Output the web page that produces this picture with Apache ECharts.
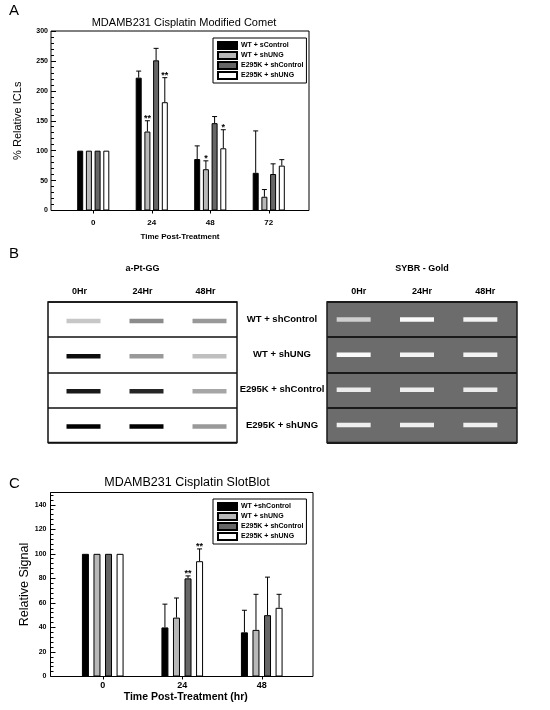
<!DOCTYPE html>
<html>
<head>
<meta charset="utf-8">
<script src="https://cdn.jsdelivr.net/npm/echarts@6/dist/echarts.min.js"></script>
<style>
  html, body { margin: 0; padding: 0; background: #fff; }
  #chart { width: 550px; height: 710px; }
</style>
</head>
<body>
<div id="chart"></div>
<script>
// panel A - comet assay
var cometTimes = ['0', '24', '48', '72'];
var cometNames = ['WT + sControl', 'WT + shUNG', 'E295K + shControl', 'E295K + shUNG'];
var cometWTsCtl = [100, 222, 86, 63];
var cometWTsCtlErr = [0, 11, 22, 70];
var cometWTshUNG = [100, 132, 69, 23];
var cometWTshUNGErr = [0, 18, 14, 12];
var cometE295KshCtl = [100, 251, 146, 61];
var cometE295KshCtlErr = [0, 20, 11, 17];
var cometE295KshUNG = [100, 181, 104, 75];
var cometE295KshUNGErr = [0, 41, 31, 10];
var cometStars = [['', '', '', ''], ['', '**', '*', ''], ['', '', '', ''], ['', '**', '*', '']];
var cometTicks = [0, 50, 100, 150, 200, 250, 300];

// panel B - slot blots
var blotLanes = ['0Hr', '24Hr', '48Hr'];
var blotRows = ['WT + shControl', 'WT + shUNG', 'E295K + shControl', 'E295K + shUNG'];
var ptggSignal = [[0.22, 0.45, 0.4], [0.95, 0.4, 0.25], [0.9, 0.85, 0.35], [1.0, 1.0, 0.4]];
var sybrSignal = [[0.7, 1.0, 0.95], [1.0, 0.95, 0.95], [0.9, 0.92, 0.9], [0.92, 0.92, 0.92]];

// panel C - slot blot quantification
var slotTimes = ['0', '24', '48'];
var slotNames = ['WT +shControl', 'WT + shUNG', 'E295K + shControl', 'E295K + shUNG'];
var slotWTshCtl = [100, 40, 36];
var slotWTshCtlErr = [0, 19, 18];
var slotWTshUNG = [100, 48, 38];
var slotWTshUNGErr = [0, 16, 29];
var slotE295KshCtl = [100, 80, 50];
var slotE295KshCtlErr = [0, 2, 31];
var slotE295KshUNG = [100, 94, 56];
var slotE295KshUNGErr = [0, 10, 11];
var slotStars = [['', '', ''], ['', '', ''], ['', '**', ''], ['', '**', '']];
var slotTicks = [0, 20, 40, 60, 80, 100, 120, 140];

var FONT = 'Liberation Sans';
var fills = ['#000000', '#b8b8b8', '#666666', '#ffffff'];

var chart = echarts.init(document.getElementById('chart'));

function barSeries(names, values, xi, barW, gap) {
    return values.map(function (v, k) {
        return {
            type: 'bar', name: names[k], xAxisIndex: xi, yAxisIndex: xi,
            data: v, barWidth: barW, barGap: gap,
            itemStyle: { color: fills[k], borderColor: '#000', borderWidth: 1 },
            animation: false
        };
    });
}

function errSeries(values, errs, stars, xi, pitch, starSize) {
    var data = [];
    values.forEach(function (v, k) {
        v.forEach(function (m, c) {
            if (errs[k][c] > 0) data.push([c, k, m, errs[k][c], stars[k][c]]);
        });
    });
    return {
        type: 'custom', xAxisIndex: xi, yAxisIndex: xi, data: data, animation: false, z: 5,
        renderItem: function (params, api) {
            var c = api.value(0), k = api.value(1), m = api.value(2), e = api.value(3);
            var s = data[params.dataIndex][4];
            var base = api.coord([c, m]);
            var top = api.coord([c, m + e]);
            var x = base[0] + (k - 1.5) * pitch;
            var kids = [
                { type: 'line', shape: { x1: x, y1: base[1], x2: x, y2: top[1] }, style: { stroke: '#000', lineWidth: 1 } },
                { type: 'line', shape: { x1: x - 2.5, y1: top[1], x2: x + 2.5, y2: top[1] }, style: { stroke: '#000', lineWidth: 1 } }
            ];
            if (s) {
                kids.push({ type: 'text', x: x, y: top[1] + 2, style: {
                    text: s, fill: '#000', font: 'bold ' + starSize + 'px ' + FONT, align: 'center', verticalAlign: 'bottom' } });
            }
            return { type: 'group', children: kids };
        }
    };
}

function blotSeries(signal, xi, toColor, size, offset) {
    var data = [];
    signal.forEach(function (row, r) {
        row.forEach(function (s, l) { data.push([l, r, s]); });
    });
    return {
        type: 'scatter', xAxisIndex: xi, yAxisIndex: xi, data: data, animation: false,
        symbol: 'rect', symbolSize: size, symbolOffset: offset,
        itemStyle: { color: function (p) { return toColor(p.value[2]); }, opacity: 1 },
        silent: true
    };
}

function grey(v) {
    var g = Math.max(0, Math.min(255, Math.round(v)));
    return 'rgb(' + g + ',' + g + ',' + g + ')';
}

var catLabel = function (size) {
    return { color: '#000', fontFamily: FONT, fontWeight: 'bold', fontSize: size };
};

function legendAt(names, top) {
    return {
        data: names, orient: 'vertical', left: 213, top: top,
        itemWidth: 19, itemHeight: 7, itemGap: 1, padding: [3, 3, 3, 4],
        borderColor: '#000', borderWidth: 1, backgroundColor: '#fff',
        selectedMode: false, icon: 'rect',
        textStyle: { fontSize: 7, lineHeight: 8.5, fontWeight: 'bold', color: '#000', fontFamily: FONT, padding: [0, 0, 0, -1] }
    };
}

var option = {
    animation: false,
    textStyle: { fontFamily: FONT },
    graphic: [
        { type: 'text', left: 9, top: 3, style: { text: 'A', font: '15px ' + FONT, fill: '#000' } },
        { type: 'text', left: 9, top: 246, style: { text: 'B', font: '15px ' + FONT, fill: '#000' } },
        { type: 'text', left: 9, top: 476, style: { text: 'C', font: '15px ' + FONT, fill: '#000' } },
        { type: 'text', x: 184, y: 23, style: { text: 'MDAMB231 Cisplatin Modified Comet', font: '11px ' + FONT, fill: '#000', align: 'center', verticalAlign: 'middle' } },
        { type: 'text', x: 187, y: 483, style: { text: 'MDAMB231 Cisplatin SlotBlot', font: '12.5px ' + FONT, fill: '#000', align: 'center', verticalAlign: 'middle' } }
    ],
    legend: [legendAt(cometNames, 38), legendAt(slotNames, 499)],
    grid: [
        { left: 64, right: 252, top: 31, bottom: 499.5 },
        { left: 51, right: 241, top: 31, bottom: 499.5, show: true, borderColor: '#000', borderWidth: 1 },
        { left: 63, right: 248.5, top: 492.5, bottom: 33.5 },
        { left: 50.5, right: 237, top: 492.5, bottom: 33.5, show: true, borderColor: '#000', borderWidth: 1 },
        { left: 48, right: 313, top: 302, bottom: 267.5, show: true, borderColor: '#111', borderWidth: 1.5 },
        { left: 327, right: 33, top: 302, bottom: 267.5, show: true, borderColor: '#1a1a1a', borderWidth: 1.5, backgroundColor: '#6c6c6c' }
    ],
    xAxis: [
        { gridIndex: 0, type: 'category', data: cometTimes, axisLine: { show: false },
          axisTick: { show: true, alignWithLabel: true, length: 3, lineStyle: { color: '#000' } },
          axisLabel: Object.assign({ margin: 8 }, catLabel(8)) },
        { gridIndex: 1, type: 'value', min: 0, max: 1, axisLine: { show: false }, axisTick: { show: false },
          axisLabel: { show: false }, splitLine: { show: false },
          name: 'Time Post-Treatment', nameLocation: 'middle', nameGap: 22,
          nameTextStyle: { fontSize: 8, fontWeight: 'bold', color: '#000', fontFamily: FONT } },
        { gridIndex: 2, type: 'category', data: slotTimes, axisLine: { show: false },
          axisTick: { show: true, alignWithLabel: true, length: 3, lineStyle: { color: '#000' } },
          axisLabel: Object.assign({ margin: 5 }, catLabel(9)) },
        { gridIndex: 3, type: 'value', min: 0, max: 1, axisLine: { show: false }, axisTick: { show: false },
          axisLabel: { show: false }, splitLine: { show: false },
          name: 'Time Post-Treatment (hr)', nameLocation: 'middle', nameGap: 15,
          nameTextStyle: { fontSize: 10.5, fontWeight: 'bold', color: '#000', fontFamily: FONT, padding: [0, 0, 0, 8] } },
        { gridIndex: 4, type: 'category', data: blotLanes, position: 'top',
          axisLine: { show: false }, axisTick: { show: false },
          axisLabel: Object.assign({ margin: 6 }, catLabel(9)),
          name: 'a-Pt-GG', nameLocation: 'middle', nameGap: 29,
          nameTextStyle: { fontSize: 9, fontWeight: 'bold', color: '#000', fontFamily: FONT } },
        { gridIndex: 5, type: 'category', data: blotLanes, position: 'top',
          axisLine: { show: false }, axisTick: { show: false },
          axisLabel: Object.assign({ margin: 6 }, catLabel(9)),
          name: 'SYBR - Gold', nameLocation: 'middle', nameGap: 29,
          nameTextStyle: { fontSize: 9, fontWeight: 'bold', color: '#000', fontFamily: FONT } }
    ],
    yAxis: [
        { gridIndex: 0, type: 'value', min: 0, max: 300, interval: 50, show: false },
        { gridIndex: 1, type: 'value', min: 0, max: 300, interval: 50,
          axisLine: { show: false },
          axisTick: { show: true, inside: true, length: 5, lineStyle: { color: '#000' } },
          minorTick: { show: true, splitNumber: 5, length: 3, lineStyle: { color: '#000' } },
          splitLine: { show: false },
          axisLabel: { margin: 3, fontSize: 7, fontWeight: 'bold', color: '#000', fontFamily: FONT,
                       customValues: cometTicks },
          name: '% Relative ICLs', nameLocation: 'middle', nameGap: 28, nameRotate: 90,
          nameTextStyle: { fontSize: 11, color: '#000', fontFamily: FONT } },
        { gridIndex: 2, type: 'value', min: 0, max: 150, interval: 10, show: false },
        { gridIndex: 3, type: 'value', min: 0, max: 150, interval: 20,
          axisLine: { show: false },
          axisTick: { show: true, inside: true, length: 5, lineStyle: { color: '#000' } },
          minorTick: { show: true, splitNumber: 5, length: 3, lineStyle: { color: '#000' } },
          splitLine: { show: false },
          axisLabel: { margin: 4, fontSize: 7, fontWeight: 'bold', color: '#000', fontFamily: FONT,
                       customValues: slotTicks },
          name: 'Relative Signal', nameLocation: 'middle', nameGap: 17, nameRotate: 90,
          nameTextStyle: { fontSize: 12.5, color: '#000', fontFamily: FONT } },
        { gridIndex: 4, type: 'category', data: blotRows, inverse: true, position: 'right',
          axisLine: { show: false }, axisTick: { show: false },
          splitLine: { show: true, lineStyle: { color: '#111', width: 1.5 } },
          axisLabel: { interval: 0, margin: 45, align: 'center', fontSize: 9.5, fontWeight: 'bold', color: '#000', fontFamily: FONT } },
        { gridIndex: 5, type: 'category', data: blotRows, inverse: true,
          axisLine: { show: false }, axisTick: { show: false }, axisLabel: { show: false },
          splitLine: { show: true, interval: 0, lineStyle: { color: '#1a1a1a', width: 2 } } }
    ],
    series: [].concat(
        barSeries(cometNames, [cometWTsCtl, cometWTshUNG, cometE295KshCtl, cometE295KshUNG], 0, 6, '45%'),
        [errSeries([cometWTsCtl, cometWTshUNG, cometE295KshCtl, cometE295KshUNG],
                   [cometWTsCtlErr, cometWTshUNGErr, cometE295KshCtlErr, cometE295KshUNGErr],
                   cometStars, 0, 8.7, 9)],
        barSeries(slotNames, [slotWTshCtl, slotWTshUNG, slotE295KshCtl, slotE295KshUNG], 2, 7, '65%'),
        [errSeries([slotWTshCtl, slotWTshUNG, slotE295KshCtl, slotE295KshUNG],
                   [slotWTshCtlErr, slotWTshUNGErr, slotE295KshCtlErr, slotE295KshUNGErr],
                   slotStars, 2, 11.55, 9)],
        [blotSeries(ptggSignal, 4, function (s) { return grey(255 * (1 - s)); }, [34, 4.5], [4, 1.5]),
         blotSeries(sybrSignal, 5, function (s) { return grey(108 + (250 - 108) * s); }, [34, 4.5], [-5, 0])]
    )
};

chart.setOption(option);
</script>
</body>
</html>
